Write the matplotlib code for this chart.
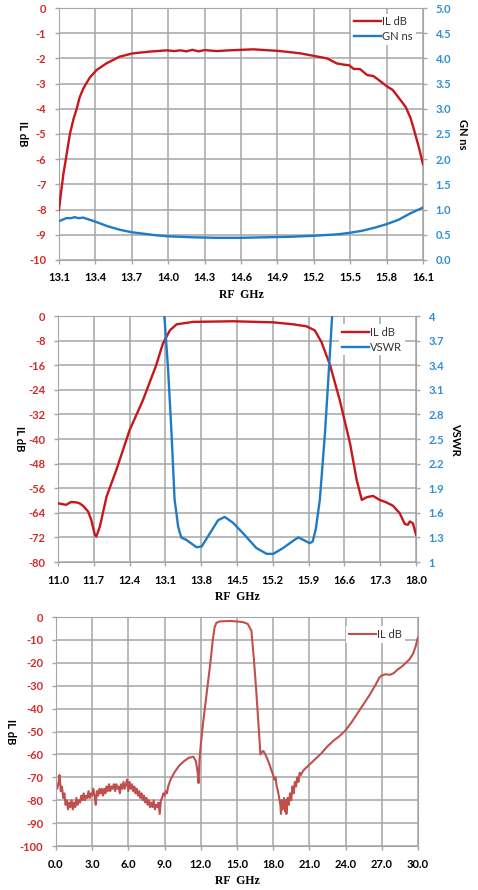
import numpy as np
import matplotlib.pyplot as plt

# ---- panel 1 : IL and group delay, 13.1 - 16.1 GHz
f1 = [13.1, 13.12, 13.136, 13.16, 13.19, 13.22, 13.246, 13.27, 13.30, 13.33, 13.356, 13.41,
      13.49, 13.6, 13.71, 13.85, 13.99, 14.05, 14.1, 14.15, 14.2, 14.25, 14.3, 14.35, 14.4,
      14.5, 14.6, 14.7, 14.9, 15.0, 15.09, 15.2, 15.31, 15.39, 15.45, 15.49, 15.53, 15.58,
      15.64, 15.69, 15.72, 15.8, 15.85, 15.89, 15.93, 15.96, 16.0, 16.03, 16.07, 16.1]
il1 = [-8.0, -7.2, -6.6, -5.9, -5.0, -4.4, -4.0, -3.55, -3.2, -2.95, -2.75, -2.46,
       -2.2, -1.93, -1.8, -1.73, -1.68, -1.71, -1.68, -1.72, -1.66, -1.72, -1.67, -1.69, -1.71,
       -1.68, -1.66, -1.64, -1.7, -1.75, -1.8, -1.9, -2.0, -2.2, -2.25, -2.27, -2.42, -2.42,
       -2.66, -2.7, -2.8, -3.1, -3.25, -3.5, -3.75, -3.95, -4.4, -4.9, -5.6, -6.2]
fg = [13.1, 13.16, 13.2, 13.23, 13.26, 13.3, 13.4, 13.5, 13.6, 13.7, 13.8, 13.9, 14.0,
      14.2, 14.4, 14.6, 14.8, 15.0, 15.2, 15.4, 15.5, 15.6, 15.7, 15.8, 15.9, 16.0, 16.1]
gd = [0.77, 0.83, 0.83, 0.85, 0.83, 0.84, 0.76, 0.67, 0.6, 0.55, 0.52, 0.49, 0.47,
      0.45, 0.44, 0.44, 0.45, 0.46, 0.48, 0.51, 0.54, 0.58, 0.64, 0.71, 0.8, 0.93, 1.04]

# ---- panel 2 : IL and VSWR, 11 - 18 GHz
f2 = [11.0, 11.16, 11.25, 11.36, 11.42, 11.49, 11.59, 11.65, 11.72, 11.75, 11.82, 11.95,
      12.14, 12.4, 12.66, 12.92, 13.05, 13.19, 13.32, 13.64, 14.42, 15.21, 15.6, 15.86,
      16.02, 16.15, 16.32, 16.51, 16.71, 16.84, 16.94, 17.04, 17.16, 17.29, 17.42, 17.55,
      17.68, 17.78, 17.84, 17.88, 17.94, 18.0]
il2 = [-60.9, -61.4, -60.5, -60.6, -60.9, -61.7, -63.6, -66.3, -71.1, -71.7, -68.4, -58.7,
       -50.1, -37.1, -27.4, -16.0, -9.0, -4.6, -2.7, -1.9, -1.7, -2.05, -2.7, -3.35,
       -4.65, -8.4, -16.0, -27.4, -41.4, -53.3, -59.8, -58.9, -58.5, -59.8, -60.6, -61.7,
       -64.1, -67.6, -67.9, -66.8, -67.4, -71.1]
fv = [13.08, 13.15, 13.22, 13.28, 13.35, 13.41, 13.51, 13.71, 13.81, 13.97, 14.13, 14.26,
      14.42, 14.62, 14.88, 15.08, 15.21, 15.40, 15.60, 15.70, 15.83, 15.92, 15.98, 16.04,
      16.12, 16.22, 16.32, 16.36]
vswr = [4.0, 3.38, 2.57, 1.76, 1.43, 1.30, 1.27, 1.18, 1.19, 1.35, 1.51, 1.55,
        1.48, 1.35, 1.17, 1.10, 1.10, 1.17, 1.26, 1.30, 1.26, 1.23, 1.25, 1.40,
        1.76, 2.57, 3.58, 4.0]

# ---- panel 3 : wideband IL, 0 - 30 GHz
f3 = [0.0, 0.1, 0.2, 0.3, 0.4, 0.5, 0.6, 0.7, 0.8, 0.9, 1.0, 1.1, 1.2, 1.3, 1.4, 1.5,
      1.6, 1.7, 1.8, 1.9, 2.0, 2.1, 2.2, 2.3, 2.4, 2.5, 2.6, 2.7, 2.8, 2.9, 3.0, 3.1,
      3.2, 3.3, 3.4, 3.5, 3.6, 3.7, 3.8, 3.9, 4.0, 4.1, 4.2, 4.3, 4.4, 4.5, 4.6, 4.7,
      4.8, 4.9, 5.0, 5.1, 5.2, 5.3, 5.4, 5.5, 5.6, 5.7, 5.8, 5.9, 6.0, 6.1, 6.2, 6.3,
      6.4, 6.5, 6.6, 6.7, 6.8, 6.9, 7.0, 7.1, 7.2, 7.3, 7.4, 7.5, 7.6, 7.7, 7.8, 7.9,
      8.0, 8.1, 8.2, 8.3, 8.4, 8.5, 8.6, 8.7, 8.8, 8.9, 9.0, 9.1, 9.2, 9.3,
      9.5, 9.8, 10.2, 10.6, 11.0, 11.4, 11.6, 11.75, 11.82, 11.9, 12.0, 12.2, 12.5, 12.8,
      13.0, 13.15, 13.3, 13.6, 14.5, 15.5, 15.9, 16.2, 16.4, 16.6, 16.8, 16.95, 17.05,
      17.2, 17.4, 17.6, 17.8, 18.0,
      18.1, 18.2, 18.3, 18.4, 18.5, 18.6, 18.65, 18.7, 18.8, 18.9, 19.0, 19.05, 19.1,
      19.2, 19.3, 19.4, 19.5, 19.6, 19.7, 19.8, 19.9, 20.0, 20.1, 20.2, 20.3, 20.5,
      20.7, 21.0, 21.5, 22.0, 22.5, 23.0, 23.5, 24.0, 24.5, 25.0, 25.5, 26.0, 26.5,
      26.8, 27.0, 27.3, 27.7, 28.0, 28.3, 28.7, 29.0, 29.3, 29.6, 29.8, 30.0]
il3 = [-72, -75, -73, -69, -76, -74, -79, -77, -82, -80, -84, -81, -83, -80, -84, -81,
       -83, -79, -82, -80, -81, -78, -80, -77, -80, -78, -79, -76, -79, -77, -78, -75,
       -78, -82, -76, -78, -75, -77, -75, -78, -75, -77, -74, -76, -73, -76, -74, -75,
       -73, -76, -73, -75, -74, -77, -73, -75, -72, -75, -73, -71, -76, -72, -75, -73,
       -76, -74, -77, -75, -78, -76, -79, -77, -80, -78, -81, -79, -82, -80, -83, -81,
       -83, -80, -84, -82, -83, -81, -86, -80, -79, -77, -78, -76, -77, -74,
       -71, -68, -65, -63, -61.5, -61, -63, -68, -72.5, -62, -56, -46, -33, -20,
       -10, -4.5, -2.5, -1.9, -1.7, -2.2, -3, -6, -18, -32, -48, -60, -59,
       -58.5, -60.5, -63, -66, -69,
       -71, -70, -74, -76, -79, -82, -86, -80, -84, -79, -85, -80, -86,
       -79, -82, -77, -80, -74, -77, -72, -74, -70, -72, -68, -69, -67,
       -66, -64.5, -62, -59.5, -56.5, -54, -52, -49.5, -46, -42, -38, -34, -29.5,
       -26.5, -25.5, -25, -25.2, -24.5, -23, -21.5, -20, -18.5, -16, -13, -9]

RED = '#C8161D'
BLUE = '#1F7BC6'
RED3 = '#C0504D'
TRED = '#D42A2A'
TBLUE = '#2E8FD6'
GRID = '#A6A6A6'
TF = 'Lato'

fig = plt.figure(figsize=(4.78, 8.9), dpi=100)


def style(ax, xt, yt, lpad):
    ax.set_xlim(xt[0], xt[-1])
    ax.set_ylim(yt[0], yt[-1])
    ax.set_xticks(xt)
    ax.set_xticklabels(['%.1f' % v for v in xt], fontsize=8, fontweight='bold',
                       family=TF)
    ax.set_yticks(yt)
    ax.set_yticklabels(['%g' % v for v in yt], fontsize=8, fontweight='bold',
                       family=TF)
    ax.grid(True, color=GRID, lw=1.1)
    ax.set_axisbelow(True)
    for s in ax.spines.values():
        s.set_color(GRID)
    ax.tick_params(colors=GRID, length=3, width=1, pad=6)
    for lb in ax.get_yticklabels():
        lb.set_color(TRED)
    for lb in ax.get_xticklabels():
        lb.set_color('black')
    ax.set_xlabel('RF  GHz', family='Liberation Serif', fontweight='bold',
                  fontsize=8.5, labelpad=4)
    ax.set_ylabel('IL dB', fontweight='bold', fontsize=8, rotation=270,
                  labelpad=lpad, family=TF)


def right(ax2, yt, ytl, name):
    ax2.set_ylim(yt[0], yt[-1])
    ax2.set_yticks(yt)
    ax2.set_yticklabels(ytl, fontsize=8, fontweight='bold', family=TF)
    for s in ax2.spines.values():
        s.set_visible(False)
    ax2.tick_params(colors=GRID, length=3, width=1, pad=6)
    for lb in ax2.get_yticklabels():
        lb.set_color(TBLUE)
    ax2.set_ylabel(name, fontweight='bold', fontsize=8, rotation=270,
                   labelpad=12, family=TF)


def leg(ax, handles, anchor):
    lg = ax.legend(handles=handles, loc='upper right', bbox_to_anchor=anchor,
                   frameon=True, fancybox=False, handlelength=2.4,
                   handletextpad=0.15, labelspacing=0.35, borderpad=0.25,
                   prop={'family': TF, 'size': 8})
    lg.get_frame().set_edgecolor('none')
    lg.get_frame().set_facecolor('white')
    lg.get_frame().set_alpha(1)
    for t in lg.get_texts():
        t.set_color('#333333')


# panel 1
ax = fig.add_axes([0.1234, 0.7079, 0.7615, 0.2831])
xt1 = [13.1, 13.4, 13.7, 14.0, 14.3, 14.6, 14.9, 15.2, 15.5, 15.8, 16.1]
yt1 = list(range(-10, 1))
style(ax, xt1, yt1, 9)
ax2 = ax.twinx()
gt = [0.0, 0.5, 1.0, 1.5, 2.0, 2.5, 3.0, 3.5, 4.0, 4.5, 5.0]
right(ax2, gt, ['%.1f' % v for v in gt], 'GN ns')
# IL drawn on the left scale, mapped onto the twin axis so legend sits on top
l1, = ax2.plot(f1, np.array(il1) / 2 + 5, color=RED, lw=1.7, label='IL dB')
l2, = ax2.plot(fg, gd, color=BLUE, lw=1.7, label='GN ns')
leg(ax2, [l1, l2], (0.995, 1.0))

# panel 2
ax = fig.add_axes([0.1213, 0.3685, 0.749, 0.2764])
xt2 = [11.0, 11.7, 12.4, 13.1, 13.8, 14.5, 15.2, 15.9, 16.6, 17.3, 18.0]
yt2 = list(range(-80, 1, 8))
style(ax, xt2, yt2, 10)
ax2 = ax.twinx()
vt = [1.0, 1.3, 1.6, 1.9, 2.2, 2.5, 2.8, 3.1, 3.4, 3.7, 4.0]
right(ax2, vt, ['1', '1.3', '1.6', '1.9', '2.2', '2.5', '2.8', '3.1', '3.4', '3.7', '4'],
      'VSWR')
l1, = ax2.plot(f2, (np.array(il2) + 80) * 3 / 80 + 1, color=RED, lw=1.7, label='IL dB')
l2, = ax2.plot(fv, vswr, color=BLUE, lw=1.7, label='VSWR')
leg(ax2, [l1, l2], (0.985, 0.99))

# panel 3
ax = fig.add_axes([0.117, 0.0494, 0.7573, 0.2573])
xt3 = [0.0, 3.0, 6.0, 9.0, 12.0, 15.0, 18.0, 21.0, 24.0, 27.0, 30.0]
yt3 = list(range(-100, 1, 10))
style(ax, xt3, yt3, 11)
l1, = ax.plot(f3, il3, color=RED3, lw=1.5, label='IL dB')
leg(ax, [l1], (0.98, 0.985))

fig.savefig('out.png', dpi=100)
